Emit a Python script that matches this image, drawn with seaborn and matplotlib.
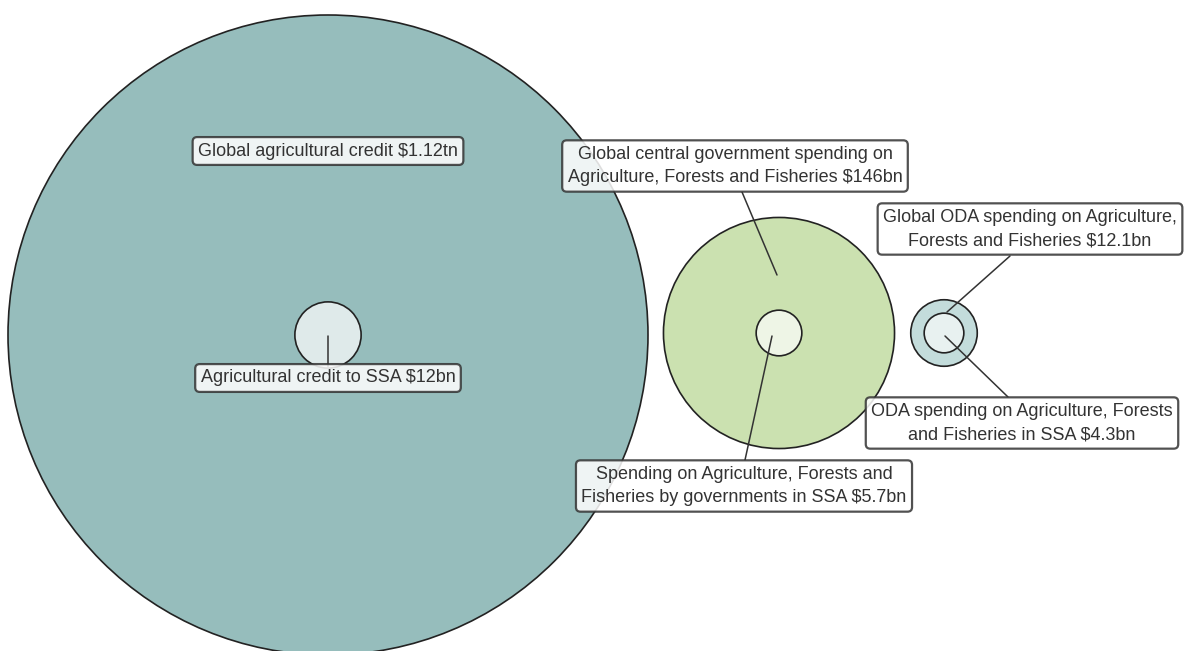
import matplotlib
matplotlib.use("Agg")
import matplotlib.pyplot as plt
from matplotlib.patches import Circle
import numpy as np
import seaborn as sns

# Funding flows, US$ billions
global_labels = [
    "Global agricultural credit $1.12tn",
    "Global central government spending on\nAgriculture, Forests and Fisheries $146bn",
    "Global ODA spending on Agriculture,\nForests and Fisheries $12.1bn",
]
global_values = [1120.0, 146.0, 12.1]

ssa_labels = [
    "Agricultural credit to SSA $12bn",
    "Spending on Agriculture, Forests and\nFisheries by governments in SSA $5.7bn",
    "ODA spending on Agriculture, Forests\nand Fisheries in SSA $4.3bn",
]
ssa_values = [12.0, 5.7, 4.3]

outer_colors = ["#96bdbc", "#cbe1b0", "#c3dcdb"]
inner_colors = ["#dfeaea", "#eef5e6", "#e8f1f0"]

sns.set_theme(style="white")
plt.rcParams["font.family"] = ["Liberation Sans", "DejaVu Sans"]

W, H = 1184, 651
fig = plt.figure(figsize=(W / 100, H / 100), dpi=100)
ax = fig.add_axes([0, 0, 1, 1])
ax.set_xlim(0, W)
ax.set_ylim(H, 0)
ax.set_aspect("equal")
ax.axis("off")

# circle area proportional to value
scale = 320.0 / np.sqrt(global_values[0])
centers = [(328, 335), (779, 333), (944, 333)]

for (cx, cy), gv, sv, oc, ic in zip(centers, global_values, ssa_values,
                                    outer_colors, inner_colors):
    ax.add_patch(Circle((cx, cy), scale * np.sqrt(gv), facecolor=oc,
                        edgecolor="#222222", lw=1.2, zorder=1))
    ax.add_patch(Circle((cx, cy), scale * np.sqrt(sv), facecolor=ic,
                        edgecolor="#222222", lw=1.2, zorder=2))

# leader lines from circles to their labels
leaders = [
    ((328, 336), (328, 367)),
    ((742, 192), (777, 275)),
    ((772, 336), (745, 460)),
    ((1010, 256), (947, 312)),
    ((945, 336), (1008, 397)),
]
for (x0, y0), (x1, y1) in leaders:
    ax.plot([x0, x1], [y0, y1], color="#333333", lw=1.1, zorder=3)

box = dict(boxstyle="round,pad=0.3,rounding_size=0.25", facecolor="white",
           alpha=0.85, edgecolor="#333333", lw=1.6)

label_pos = {
    global_labels[0]: (328, 151),
    global_labels[1]: (735, 166),
    global_labels[2]: (1030, 229),
    ssa_labels[0]: (328, 378),
    ssa_labels[1]: (744, 486),
    ssa_labels[2]: (1022, 423),
}
for txt, (x, y) in label_pos.items():
    ax.text(x, y, txt, ha="center", va="center", fontsize=13,
            color="#333333", linespacing=1.5, bbox=box, zorder=4)

fig.savefig("out.png", dpi=100)
